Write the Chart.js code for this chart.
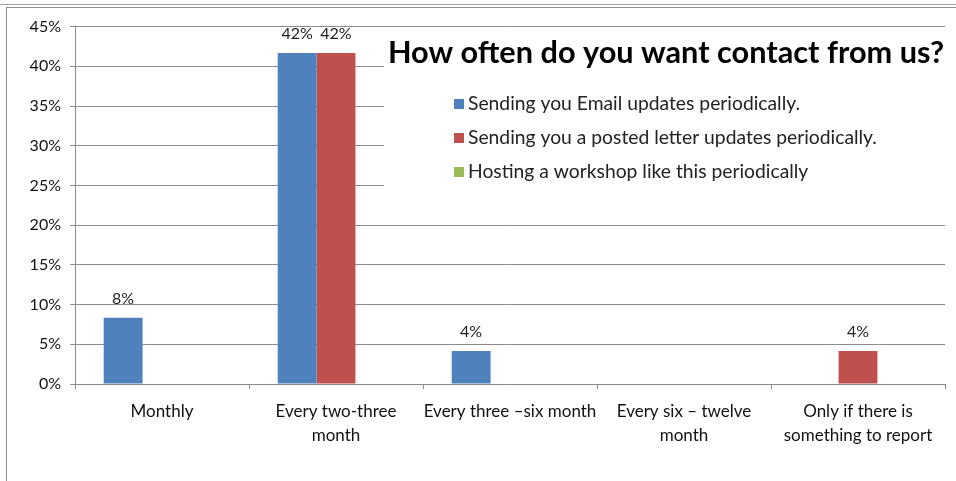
<!DOCTYPE html>
<html>
<head>
<meta charset="utf-8">
<script src="https://cdn.jsdelivr.net/npm/chart.js@4.4.1/dist/chart.umd.min.js"></script>
<style>
  body { margin: 0; background: #fff; overflow: hidden; }
  .topline { position: absolute; left: 0; top: 4px; width: 956px; height: 0; border-top: 1px solid #a0a0a0; }
  .frame { position: absolute; left: 6px; top: 7px; width: 950px; height: 474px; border-left: 1px solid #8c8c8c; border-top: 1px solid #8c8c8c; }
</style>
</head>
<body>
<div class="topline"></div>
<div class="frame">
  <canvas id="contactChart" width="949" height="473"></canvas>
</div>
<script>
// 数据
const categories = [
    'Monthly',
    ['Every two-three', 'month'],
    'Every three \u2013six month',
    ['Every six \u2013 twelve', 'month'],
    ['Only if there is', 'something to report']
];
const emailValues = [8.33, 41.67, 4.17, 0, 0];
const letterValues = [0, 41.67, 0, 0, 4.17];
const workshopValues = [0, 0, 0, 0, 0];
const seriesNames = [
    'Sending you Email updates periodically.',
    'Sending you a posted letter updates periodically.',
    'Hosting a workshop like this periodically'
];
const yTicks = [0, 5, 10, 15, 20, 25, 30, 35, 40, 45];
const chartTitle = 'How often do you want contact from us?';

const FONT = 'Lato, "Open Sans", sans-serif';

// 标题、图例和数值标签
const overlayPlugin = {
    id: 'overlay',
    beforeDatasetsDraw(chart) {
        const ctx = chart.ctx;
        ctx.save();
        ctx.fillStyle = '#fff';
        ctx.fillRect(377, 22, chart.chartArea.right - 377, 166);
        ctx.restore();
    },
    afterDraw(chart) {
        const ctx = chart.ctx;
        ctx.save();
        // 数值标签
        ctx.font = '16px ' + FONT;
        ctx.fillStyle = '#222';
        ctx.textAlign = 'center';
        ctx.textBaseline = 'bottom';
        chart.data.datasets.forEach((ds, i) => {
            const meta = chart.getDatasetMeta(i);
            meta.data.forEach((bar, j) => {
                const v = ds.data[j];
                if (!v) return;
                ctx.fillText(Math.round(v) + '%', bar.x, bar.y - 11);
            });
        });
        // 标题 (按宽度调整字号)
        let size = 24;
        ctx.font = 'bold ' + size + 'px ' + FONT;
        size = size * 556 / ctx.measureText(chartTitle).width;
        ctx.font = 'bold ' + size.toFixed(1) + 'px ' + FONT;
        ctx.fillStyle = '#000';
        ctx.textBaseline = 'middle';
        ctx.fillText(chartTitle, 659, 45);
        // 图例
        ctx.font = '19.3px ' + FONT;
        ctx.textAlign = 'left';
        chart.data.datasets.forEach((ds, i) => {
            const y = 96 + i * 34;
            ctx.fillStyle = ds.backgroundColor;
            ctx.fillRect(447, y - 5, 10, 10);
            ctx.fillStyle = '#222';
            ctx.fillText(ds.label, 461, y);
        });
        ctx.restore();
    }
};

new Chart(document.getElementById('contactChart'), {
    type: 'bar',
    data: {
        labels: categories,
        datasets: [{
            label: seriesNames[0],
            data: emailValues,
            backgroundColor: '#4F81BD'
        }, {
            label: seriesNames[1],
            data: letterValues,
            backgroundColor: '#C0504D'
        }, {
            label: seriesNames[2],
            data: workshopValues,
            backgroundColor: '#9BBB59'
        }]
    },
    options: {
        responsive: false,
        animation: false,
        layout: {
            padding: { top: 11, right: 11, left: 0, bottom: 0 }
        },
        plugins: {
            legend: { display: false },
            title: { display: false },
            tooltip: { enabled: false }
        },
        datasets: {
            bar: {
                categoryPercentage: 0.67,
                barPercentage: 1.0
            }
        },
        scales: {
            x: {
                afterFit(scale) { scale.height = 97; },
                grid: {
                    offset: true,
                    drawOnChartArea: false,
                    drawTicks: true,
                    tickLength: 5,
                    color: '#8c8c8c'
                },
                border: { display: true, color: '#8c8c8c' },
                ticks: {
                    color: '#111',
                    padding: 10,
                    maxRotation: 0,
                    autoSkip: false,
                    font: { family: FONT, size: 17, lineHeight: 1.45 }
                }
            },
            y: {
                min: 0,
                max: 45,
                afterFit(scale) { scale.width = 68; },
                afterBuildTicks(scale) {
                    scale.ticks = yTicks.map(v => ({ value: v }));
                },
                grid: {
                    color: '#8c8c8c',
                    tickLength: 5
                },
                border: { display: true, color: '#8c8c8c' },
                ticks: {
                    color: '#111',
                    padding: 9,
                    font: { family: FONT, size: 16 },
                    callback: v => v + '%'
                }
            }
        }
    },
    plugins: [overlayPlugin]
});
</script>
</body>
</html>
